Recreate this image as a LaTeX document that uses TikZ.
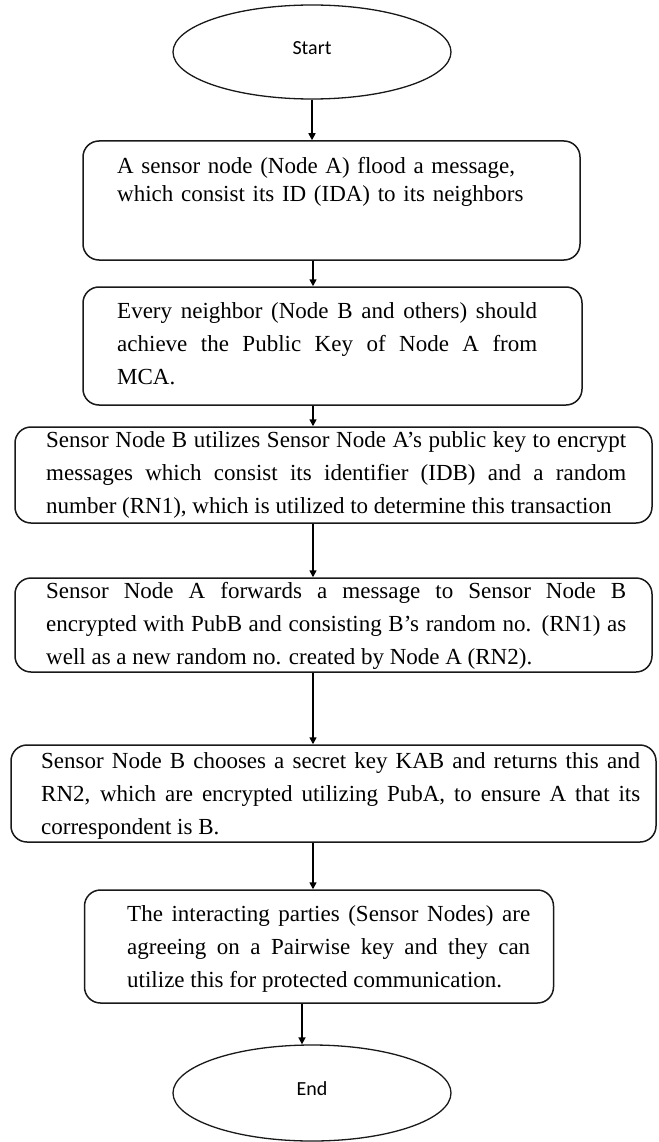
\documentclass[tikz,border=0pt]{standalone}
\usepackage{fontspec}
\setmainfont{Liberation Serif}
\newfontfamily\calib{Carlito}
\usetikzlibrary{arrows.meta,shapes.geometric}
\hbadness=10000
\begin{document}
\begin{tikzpicture}[x=1pt,y=-1pt,
  box/.style={draw=black!90, line width=1.5pt, rounded corners=16pt, inner sep=0pt},
  term/.style={ellipse, draw=black!90, line width=1.3pt, inner sep=0pt, text depth=8pt, font=\calib\fontsize{20}{22}\selectfont},
  txt/.style={inner sep=0pt, anchor=base west, font=\fontsize{23}{33}\selectfont, align=justify},
  arr/.style={line width=1.6pt, -{Triangle[length=7pt,width=7pt]}}]
\useasboundingbox (0,0) rectangle (658,1142);

\node[term, minimum width=278pt, minimum height=94pt] (start) at (312,52) {Start};

\node[box, minimum width=497pt, minimum height=119pt] (b1) at (331.5,200.5) {};
\node[txt, align=left, text width=440pt, font=\fontsize{23}{28}\selectfont] (t1) at (117,174)
 {A sensor node (Node A) flood a message,\\ which consist its ID (IDA) to its neighbors};

\node[box, minimum width=499pt, minimum height=118pt] (b2) at (332.5,346) {};
\node[txt, text width=420pt] (t2) at (117,318)
 {Every neighbor (Node B and others) should\linebreak achieve the Public Key of Node A from\linebreak MCA.};

\node[box, minimum width=637pt, minimum height=96pt] (b3) at (333.5,475) {};
\node[txt, text width=580pt] (t3) at (46,447)
 {Sensor Node B utilizes Sensor Node A’s public key to encrypt\linebreak messages which consist its identifier (IDB) and a random\linebreak number (RN1), which is utilized to determine this transaction};

\node[box, minimum width=637pt, minimum height=94pt] (b4) at (333.5,625) {};
\node[txt, text width=580pt] (t4) at (46,598)
 {Sensor Node A forwards a message to Sensor Node B\linebreak encrypted with PubB and consisting B’s random no. (RN1) as\linebreak well as a new random no. created by Node A (RN2).};

\node[box, minimum width=645pt, minimum height=97pt] (b5) at (333.5,793.5) {};
\node[txt, text width=599pt] (t5) at (41,768)
 {Sensor Node B chooses a secret key KAB and returns this and\linebreak RN2, which are encrypted utilizing PubA, to ensure A that its\linebreak correspondent is B.};

\node[box, minimum width=469pt, minimum height=113pt] (b6) at (319,946.5) {};
\node[txt, text width=403pt] (t6) at (127,921)
 {The interacting parties (Sensor Nodes) are\linebreak agreeing on a Pairwise key and they can\linebreak utilize this for protected communication.};

\node[term, minimum width=278pt, minimum height=96pt] (end) at (312,1093) {End};

\path (start.south) ++(1,0) coordinate (ax);
\draw[arr] (start.south) -- (start.south |- b1.north);
\draw[arr] (b1.south -| ax) -- (b2.north -| ax);
\draw[arr] (b2.south -| ax) -- (b3.north -| ax);
\draw[arr] (b3.south -| ax) -- (b4.north -| ax);
\draw[arr] (b4.south -| ax) -- (b5.north -| ax);
\draw[arr] (b5.south -| ax) -- (b6.north -| ax);
\path (end.north) ++(-10,0) coordinate (e6);
\draw[arr] (b6.south -| e6) -- (e6);
\end{tikzpicture}
\end{document}
